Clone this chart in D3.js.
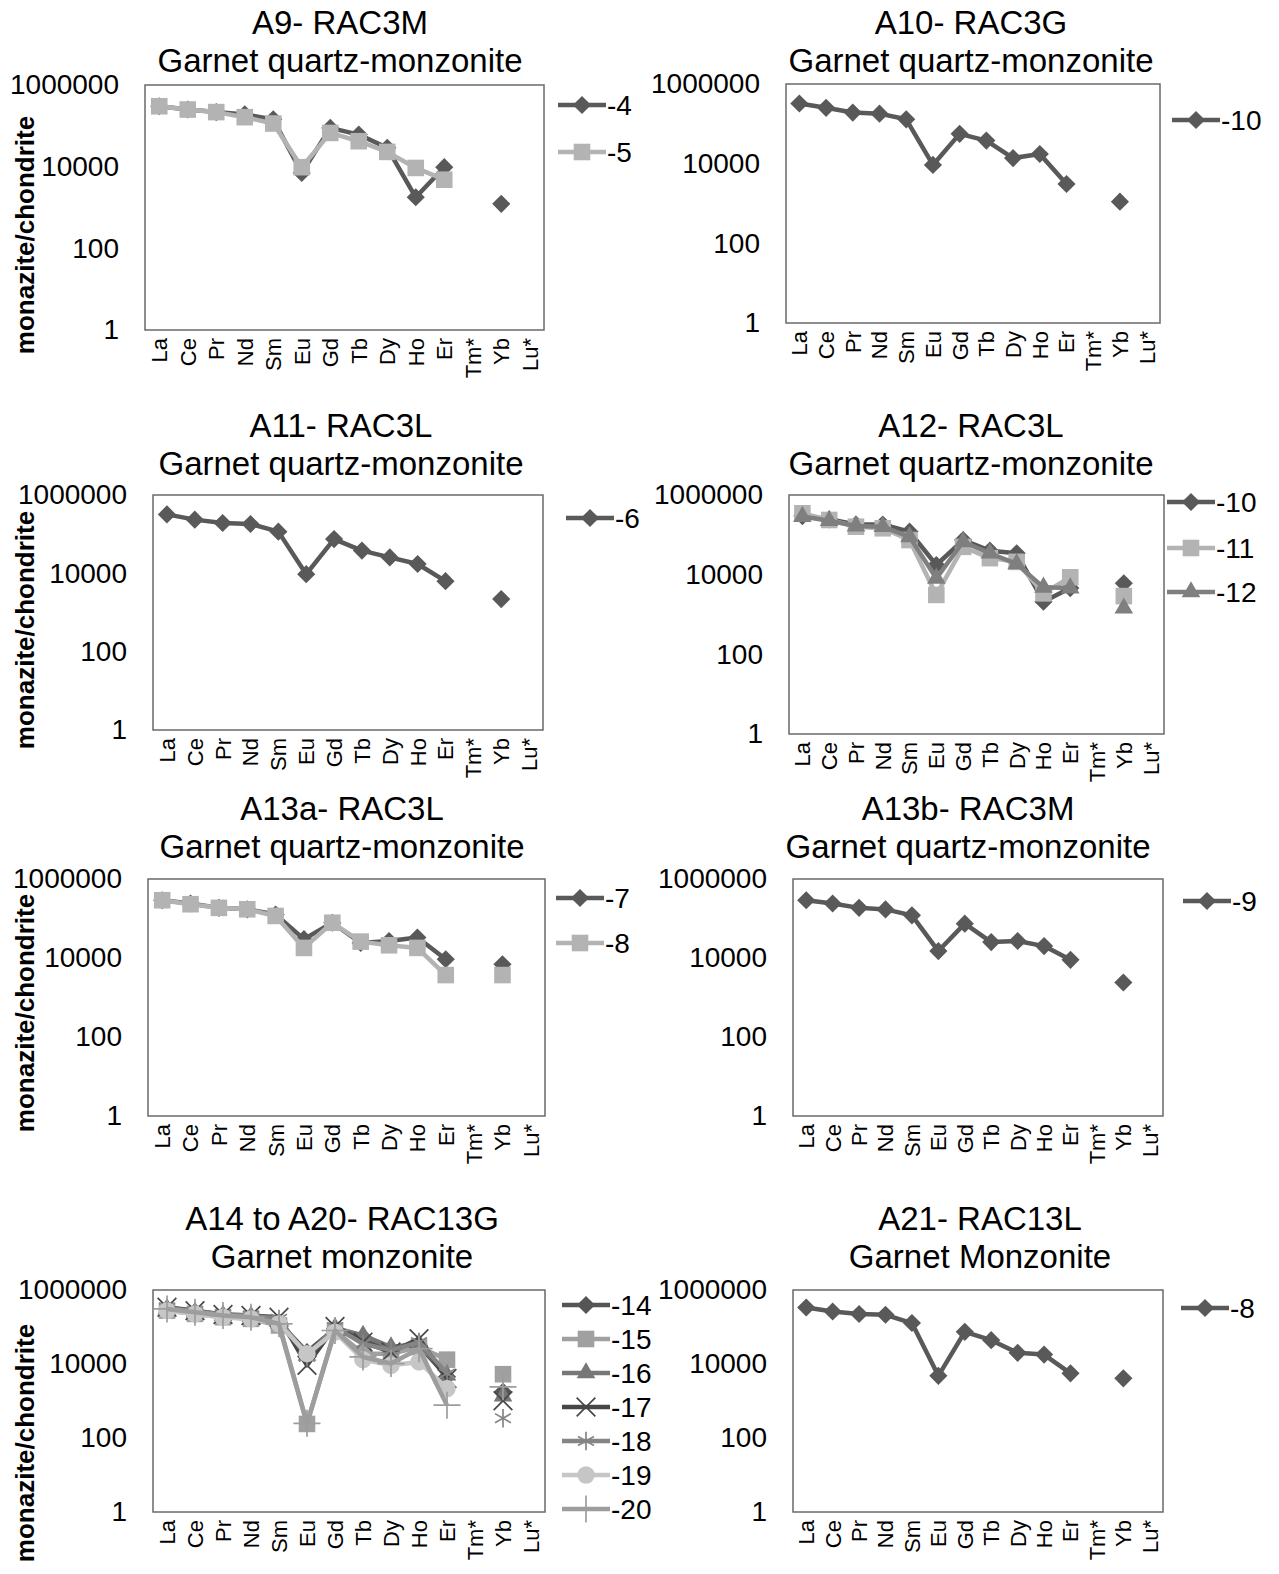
<!DOCTYPE html>
<html>
<head>
<meta charset="utf-8">
<script src="https://cdn.jsdelivr.net/npm/d3@7"></script>
<style>
  html, body { margin: 0; padding: 0; background: #fff; }
  text { font-family: "Liberation Sans", Arial, sans-serif; fill: #000; }
</style>
</head>
<body>
<script>
// Rare-earth element categories (x axis) and log-axis tick values
const ree = ["La", "Ce", "Pr", "Nd", "Sm", "Eu", "Gd", "Tb", "Dy", "Ho", "Er", "Tm*", "Yb", "Lu*"];
const yTicks = [1, 100, 10000, 1000000];

// Chondrite-normalised monazite analyses (null = not determined)
// A9 - RAC3M
const a9_4  = [302000, 251000, 217000, 190000, 144000, 7000, 89000, 61000, 29000, 1780, 9700, null, 1230, null];
const a9_5  = [302000, 251000, 217000, 163000, 114000, 9700, 67000, 42000, 23000, 9300, 4800, null, null, null];
// A10 - RAC3G
const a10_10 = [324000, 252000, 192000, 180000, 130000, 9300, 56000, 38000, 13800, 17500, 3080, null, 1110, null];
// A11 - RAC3L
const a11_6 = [320000, 235000, 193000, 182000, 116000, 9500, 75000, 38000, 25500, 17300, 6300, null, 2200, null];
// A12 - RAC3L
const a12_10 = [296000, 245000, 182000, 182000, 120000, 17500, 74000, 40000, 34500, 2100, 4600, null, 6100, null];
const a12_11 = [347000, 236000, 160000, 146000, 74000, 3100, 50000, 26000, 21000, 3400, 8600, null, 2900, null];
const a12_12 = [287000, 227000, 166000, 160000, 89000, 8100, 67000, 34500, 18600, 4800, 4600, null, 1440, null];
// A13a - RAC3L
const a13a_7 = [290000, 240000, 186000, 171000, 126000, 30000, 78000, 24000, 27000, 33000, 9300, null, 6900, null];
const a13a_8 = [290000, 230000, 186000, 171000, 116000, 18000, 78000, 26000, 21000, 18000, 3700, null, 3700, null];
// A13b - RAC3M
const a13b_9 = [290000, 240000, 186000, 170000, 120000, 15000, 74000, 25300, 27000, 20000, 9000, null, 2400, null];
// A14 to A20 - RAC13G
const a14_14 = [308000, 251000, 204000, 191000, 135000, 21100, 89700, 53300, 25900, 31800, 4500, null, 1780, null];
const a14_15 = [277000, 226000, 184000, 166000, 110000, 240, 80500, 19000, 19000, 28700, 13100, null, 5300, null];
const a14_16 = [308000, 251000, 204000, 191000, 127000, 17200, 95000, 59100, 28700, 35300, 5000, null, 1360, null];
const a14_17 = [341000, 277000, 217000, 204000, 184000, 9250, 103000, 39100, 21100, 48100, 4050, null, 1020, null];
const a14_18 = [327000, 266000, 217000, 204000, 166000, 15500, 99000, 35300, 23400, 39100, 5520, null, 342, null];
const a14_19 = [277000, 226000, 184000, 166000, 122000, 19000, 72600, 13100, 9250, 11400, 2180, null, null, null];
const a14_20 = [308000, 251000, 204000, 184000, 122000, 250, 80500, 15500, 10300, 25900, 770, null, 2420, null];
// A21 - RAC13L
const a21_8 = [336000, 263000, 224000, 214000, 128000, 4800, 74000, 44000, 20000, 18000, 5600, null, 4100, null];

// Marker / line styles
const styles = {
  diamondDark: { color: "#595959", shape: "diamond" },
  squareLight: { color: "#b3b3b3", shape: "square" },
  triangleMid: { color: "#7f7f7f", shape: "triangle" },
  d14: { color: "#555555", shape: "diamond" },
  s15: { color: "#a0a0a0", shape: "square" },
  t16: { color: "#777777", shape: "triangle" },
  x17: { color: "#474747", shape: "x" },
  a18: { color: "#858585", shape: "asterisk" },
  c19: { color: "#c6c6c6", shape: "circle" },
  p20: { color: "#9d9d9d", shape: "plus" }
};

// Panel layout
const panels = [
  { title: "A9- RAC3M", subtitle: "Garnet quartz-monzonite", box: [145, 85, 544, 330], cx: 340, ty: 22,
    yTitle: [25, 235], legend: { x: 558, y: [105, 152] },
    series: [["-4", a9_4, "diamondDark"], ["-5", a9_5, "squareLight"]] },
  { title: "A10- RAC3G", subtitle: "Garnet quartz-monzonite", box: [786, 84, 1160, 323], cx: 971, ty: 22,
    yTitle: null, legend: { x: 1172, y: [120] },
    series: [["-10", a10_10, "diamondDark"]] },
  { title: "A11- RAC3L", subtitle: "Garnet quartz-monzonite", box: [153, 495, 543, 730], cx: 341, ty: 425,
    yTitle: [25, 630], legend: { x: 566, y: [518] },
    series: [["-6", a11_6, "diamondDark"]] },
  { title: "A12- RAC3L", subtitle: "Garnet quartz-monzonite", box: [789, 495, 1164, 734], cx: 971, ty: 425,
    yTitle: null, legend: { x: 1167, y: [502, 548, 592] },
    series: [["-10", a12_10, "diamondDark"], ["-11", a12_11, "squareLight"], ["-12", a12_12, "triangleMid"]] },
  { title: "A13a- RAC3L", subtitle: "Garnet quartz-monzonite", box: [148, 879, 545, 1116], cx: 342, ty: 808,
    yTitle: [25, 1013], legend: { x: 556, y: [898, 943] },
    series: [["-7", a13a_7, "diamondDark"], ["-8", a13a_8, "squareLight"]] },
  { title: "A13b- RAC3M", subtitle: "Garnet quartz-monzonite", box: [793, 879, 1163, 1116], cx: 968, ty: 808,
    yTitle: null, legend: { x: 1183, y: [901] },
    series: [["-9", a13b_9, "diamondDark"]] },
  { title: "A14 to A20- RAC13G", subtitle: "Garnet monzonite", box: [153, 1290, 545, 1512], cx: 342, ty: 1218,
    yTitle: [25, 1443], legend: { x: 562, y: [1305, 1339, 1373, 1407, 1441, 1475, 1509] },
    series: [["-14", a14_14, "d14"], ["-15", a14_15, "s15"], ["-16", a14_16, "t16"], ["-17", a14_17, "x17"],
             ["-18", a14_18, "a18"], ["-19", a14_19, "c19"], ["-20", a14_20, "p20"]] },
  { title: "A21- RAC13L", subtitle: "Garnet Monzonite", box: [793, 1290, 1163, 1512], cx: 980, ty: 1218,
    yTitle: null, legend: { x: 1181, y: [1308] },
    series: [["-8", a21_8, "diamondDark"]] }
];

const W = 1279, H = 1574;
const svg = d3.select("body").append("svg").attr("width", W).attr("height", H);
svg.append("rect").attr("width", W).attr("height", H).attr("fill", "#fff");

function drawMarker(g, shape, color, cx, cy) {
  const t = `translate(${cx},${cy})`;
  switch (shape) {
    case "diamond":
      g.append("path").attr("d", d3.symbol(d3.symbolSquare, 165)()).attr("transform", t + " rotate(45)").attr("fill", color);
      break;
    case "square":
      g.append("path").attr("d", d3.symbol(d3.symbolSquare, 275)()).attr("transform", t).attr("fill", color);
      break;
    case "triangle":
      g.append("path").attr("d", d3.symbol(d3.symbolTriangle, 150)()).attr("transform", t).attr("fill", color);
      break;
    case "circle":
      g.append("path").attr("d", d3.symbol(d3.symbolCircle, 240)()).attr("transform", t).attr("fill", color);
      break;
    case "x":
      g.append("path").attr("d", d3.symbol(d3.symbolX, 230)()).attr("transform", t).attr("fill", "none").attr("stroke", color).attr("stroke-width", 1.7);
      break;
    case "asterisk":
      g.append("path").attr("d", d3.symbol(d3.symbolAsterisk, 240)()).attr("transform", t).attr("fill", "none").attr("stroke", color).attr("stroke-width", 1.7);
      break;
    case "plus":
      g.append("path").attr("d", d3.symbol(d3.symbolPlus, 240)()).attr("transform", t).attr("fill", "none").attr("stroke", color).attr("stroke-width", 1.7);
      break;
  }
}

function drawPanel(p) {
  const [x0, y0, x1, y1] = p.box;
  const x = d3.scaleBand().domain(ree).range([x0, x1]);
  const y = d3.scaleLog().domain([1, 1e6]).range([y1, y0]);
  const g = svg.append("g");

  // Titles
  g.append("text").attr("x", p.cx).attr("y", p.ty + 12).attr("text-anchor", "middle")
    .attr("font-size", 33).text(p.title);
  g.append("text").attr("x", p.cx).attr("y", p.ty + 50).attr("text-anchor", "middle")
    .attr("font-size", 33).text(p.subtitle);

  // Plot frame
  g.append("rect").attr("x", x0).attr("y", y0).attr("width", x1 - x0).attr("height", y1 - y0)
    .attr("fill", "none").attr("stroke", "#6a6a6a").attr("stroke-width", 1.5);

  // Y axis
  const gy = g.append("g").attr("transform", `translate(${x0},0)`)
    .call(d3.axisLeft(y).tickValues(yTicks).tickFormat(d3.format("d")).tickSize(0).tickPadding(26));
  gy.select(".domain").remove();
  gy.attr("font-size", 28).attr("font-family", null);
  gy.selectAll("text").attr("fill", "#000");

  // X axis with vertical element labels
  const gx = g.append("g").attr("transform", `translate(0,${y1})`)
    .call(d3.axisBottom(x).tickSize(0).tickPadding(0));
  gx.select(".domain").remove();
  gx.attr("font-size", 22).attr("font-family", null);
  gx.selectAll("text")
    .attr("transform", "rotate(-90)")
    .attr("text-anchor", "end")
    .attr("x", -8).attr("y", 0).attr("dy", "0.36em")
    .attr("fill", "#000");

  // Y-axis title
  if (p.yTitle) {
    g.append("text")
      .attr("transform", `translate(${p.yTitle[0]},${p.yTitle[1]}) rotate(-90)`)
      .attr("text-anchor", "middle").attr("dy", "0.36em")
      .attr("font-size", 26).attr("font-weight", "bold")
      .text("monazite/chondrite");
  }

  // Series: line segments (broken at missing values) then markers
  const line = d3.line()
    .defined(d => d.v != null)
    .x(d => x(d.el) + x.bandwidth() / 2)
    .y(d => y(d.v));

  p.series.forEach(([name, vals, sk]) => {
    const st = styles[sk];
    const pts = ree.map((el, i) => ({ el, v: vals[i] }));
    const sg = g.append("g");
    sg.append("path").datum(pts).attr("d", line)
      .attr("fill", "none").attr("stroke", st.color).attr("stroke-width", 4.5)
      .attr("stroke-linejoin", "round");
    pts.filter(d => d.v != null).forEach(d => {
      drawMarker(sg, st.shape, st.color, x(d.el) + x.bandwidth() / 2, y(d.v));
    });
  });

  // Legend
  p.series.forEach(([name, vals, sk], i) => {
    const st = styles[sk];
    const ly = p.legend.y[i], lx = p.legend.x;
    const lg = g.append("g");
    lg.append("line").attr("x1", lx).attr("x2", lx + 48).attr("y1", ly).attr("y2", ly)
      .attr("stroke", st.color).attr("stroke-width", 4.5);
    drawMarker(lg, st.shape, st.color, lx + 24, ly);
    lg.append("text").attr("x", lx + 49).attr("y", ly + 10).attr("font-size", 28).text(name);
  });
}

panels.forEach(drawPanel);
</script>
</body>
</html>
